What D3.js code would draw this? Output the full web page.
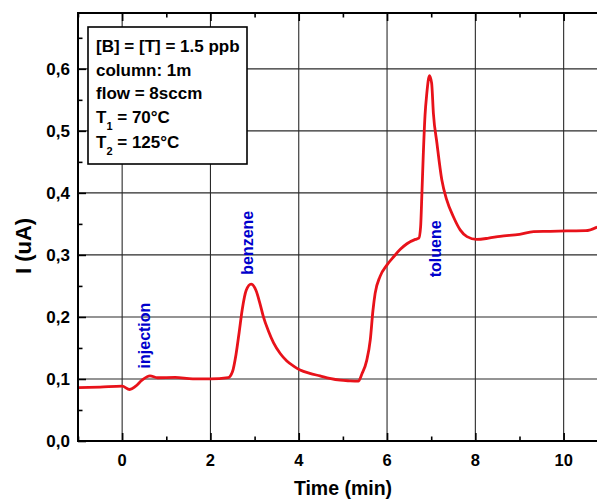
<!DOCTYPE html>
<html>
<head>
<meta charset="utf-8">
<script src="https://cdn.jsdelivr.net/npm/d3@7"></script>
<style>
  body { margin: 0; background: #fff; }
  svg { display: block; font-family: "Liberation Sans", Arial, sans-serif; }
</style>
</head>
<body>
<div id="chart"></div>
<script>
// chromatogram trace
var timeMin = [-1.0, -0.5, 0.0, 0.17, 0.3, 0.45, 0.63, 0.8, 1.2, 1.6, 2.0, 2.4, 2.5, 2.58, 2.65,
  2.72, 2.81, 2.92, 3.03, 3.12, 3.2, 3.32, 3.43, 3.58, 3.73, 3.9, 4.03, 4.25, 4.48, 4.7, 4.94,
  5.15, 5.35, 5.43, 5.54, 5.62, 5.68, 5.73, 5.84, 6.0, 6.15, 6.3, 6.45, 6.64, 6.72, 6.76, 6.79,
  6.82, 6.86, 6.9, 6.96, 7.01, 7.05, 7.13, 7.24, 7.35, 7.5, 7.66, 7.81, 8.03, 8.3, 8.56, 9.0,
  9.32, 9.7, 10.07, 10.5, 10.76];
var currentUA = [0.086, 0.087, 0.0885, 0.083, 0.088, 0.098, 0.105, 0.102, 0.1025, 0.100, 0.100,
  0.102, 0.112, 0.140, 0.175, 0.212, 0.243, 0.253, 0.243, 0.222, 0.200, 0.176, 0.158, 0.141,
  0.129, 0.120, 0.1145, 0.109, 0.105, 0.101, 0.098, 0.097, 0.0965, 0.108, 0.130, 0.163, 0.210,
  0.238, 0.265, 0.284, 0.297, 0.309, 0.318, 0.325, 0.327, 0.345, 0.400, 0.460, 0.525, 0.560,
  0.589, 0.577, 0.528, 0.480, 0.421, 0.389, 0.362, 0.340, 0.3295, 0.325, 0.327, 0.330, 0.333,
  0.3376, 0.338, 0.3387, 0.339, 0.345];

var xMajor = [0, 2, 4, 6, 8, 10];
var xMinor = [-1, 1, 3, 5, 7, 9, 11];
var yMajor = [0.0, 0.1, 0.2, 0.3, 0.4, 0.5, 0.6];
var yMinor = [0.05, 0.15, 0.25, 0.35, 0.45, 0.55, 0.65];

var infoLines = ['[B] = [T] = 1.5 ppb', 'column: 1m', 'flow = 8sccm'];
var tempLines = [{sub: '1', rest: ' = 70°C'}, {sub: '2', rest: ' = 125°C'}];

var peakNames = ['injection', 'benzene', 'toluene'];
var peakTimes = [0.64, 2.98, 7.23];
var peakBase = [0.117, 0.268, 0.264];

var W = 597, H = 501;
var plotLeft = 78, plotTop = 13, plotBottom = 441;

var x = d3.scaleLinear().domain([-1, 11]).range([plotLeft, plotLeft + 12 * 44.15]);
var y = d3.scaleLinear().domain([0, 0.69]).range([plotBottom, plotTop]);
var plotRight = x(11);

var svg = d3.select('#chart').append('svg')
  .attr('width', W).attr('height', H);

svg.append('defs').append('clipPath').attr('id', 'plotclip')
  .append('rect')
  .attr('x', plotLeft).attr('y', plotTop)
  .attr('width', plotRight - plotLeft).attr('height', plotBottom - plotTop);

// grid
var grid = svg.append('g').attr('stroke', '#2a2a2a').attr('stroke-width', 1.1);
grid.selectAll('line.vx').data(xMajor).enter().append('line')
  .attr('x1', function (d) { return x(d); }).attr('x2', function (d) { return x(d); })
  .attr('y1', plotTop).attr('y2', plotBottom);
grid.selectAll('line.hy').data(yMajor.slice(1)).enter().append('line')
  .attr('x1', plotLeft).attr('x2', plotRight)
  .attr('y1', function (d) { return y(d); }).attr('y2', function (d) { return y(d); });

// axes with inward ticks
function tickAxis(axisFn, scale, values, size) {
  return axisFn(scale).tickValues(values).tickSizeInner(-size).tickSizeOuter(0).tickFormat('');
}

svg.append('g').attr('transform', 'translate(0,' + plotBottom + ')')
  .call(tickAxis(d3.axisBottom, x, xMajor, 8));
svg.append('g').attr('transform', 'translate(0,' + plotBottom + ')')
  .call(tickAxis(d3.axisBottom, x, xMinor, 4.5));
svg.append('g').attr('transform', 'translate(0,' + plotTop + ')')
  .call(tickAxis(d3.axisTop, x, xMajor, 8));
svg.append('g').attr('transform', 'translate(0,' + plotTop + ')')
  .call(tickAxis(d3.axisTop, x, xMinor, 4.5));
svg.append('g').attr('transform', 'translate(' + plotLeft + ',0)')
  .call(tickAxis(d3.axisLeft, y, yMajor, 8));
svg.append('g').attr('transform', 'translate(' + plotLeft + ',0)')
  .call(tickAxis(d3.axisLeft, y, yMinor, 4.5));
svg.selectAll('.domain').remove();
svg.selectAll('.tick line').attr('stroke', '#000').attr('stroke-width', 1.6);

// tick labels
svg.append('g').selectAll('text').data(xMajor).enter().append('text')
  .attr('x', function (d) { return x(d); })
  .attr('y', 466)
  .attr('text-anchor', 'middle')
  .attr('font-size', 16.5).attr('font-weight', 'bold')
  .text(function (d) { return d; });

svg.append('g').selectAll('text').data(yMajor).enter().append('text')
  .attr('x', 70)
  .attr('y', function (d) { return y(d) + 6; })
  .attr('text-anchor', 'end')
  .attr('font-size', 17).attr('font-weight', 'bold')
  .text(function (d) { return d3.format('.1f')(d).replace('.', ','); });

// axis titles
svg.append('text')
  .attr('x', 343).attr('y', 495)
  .attr('text-anchor', 'middle')
  .attr('font-size', 19.5).attr('font-weight', 'bold')
  .text('Time (min)');

svg.append('text')
  .attr('transform', 'translate(31,246) rotate(-90)')
  .attr('text-anchor', 'middle')
  .attr('font-size', 22).attr('font-weight', 'bold')
  .text('I (uA)');

// trace
var pts = timeMin.map(function (t, i) { return [t, currentUA[i]]; });
var line = d3.line()
  .x(function (d) { return x(d[0]); })
  .y(function (d) { return y(d[1]); })
  .curve(d3.curveMonotoneX);

svg.append('path')
  .datum(pts)
  .attr('clip-path', 'url(#plotclip)')
  .attr('fill', 'none')
  .attr('stroke', '#e8121a')
  .attr('stroke-width', 2.8)
  .attr('stroke-linejoin', 'round')
  .attr('d', line);

// frame
svg.append('rect')
  .attr('x', plotLeft).attr('y', plotTop)
  .attr('width', plotRight - plotLeft).attr('height', plotBottom - plotTop)
  .attr('fill', 'none').attr('stroke', '#000').attr('stroke-width', 2);

// peak labels
svg.append('g').selectAll('text').data(peakNames).enter().append('text')
  .attr('transform', function (d, i) {
    return 'translate(' + (x(peakTimes[i]) - 0.5) + ',' + y(peakBase[i]) + ') rotate(-90)';
  })
  .attr('fill', '#0000cc')
  .attr('font-size', 16).attr('font-weight', 'bold')
  .text(function (d) { return d; });

// info box
var box = svg.append('g');
box.append('rect')
  .attr('x', 88).attr('y', 27)
  .attr('width', 159).attr('height', 137)
  .attr('fill', '#fff').attr('stroke', '#000').attr('stroke-width', 1.6);

box.selectAll('text.info').data(infoLines).enter().append('text')
  .attr('x', 96).attr('y', function (d, i) { return 52 + i * 23.5; })
  .attr('font-size', 17).attr('font-weight', 'bold')
  .text(function (d) { return d; });

var temps = box.selectAll('text.temp').data(tempLines).enter().append('text')
  .attr('x', 96).attr('y', function (d, i) { return 122.5 + i * 25; })
  .attr('font-size', 17).attr('font-weight', 'bold');
temps.append('tspan').text('T');
temps.append('tspan').attr('font-size', 11).attr('dy', 7).text(function (d) { return d.sub; });
temps.append('tspan').attr('dy', -7).text(function (d) { return d.rest; });
</script>
</body>
</html>
